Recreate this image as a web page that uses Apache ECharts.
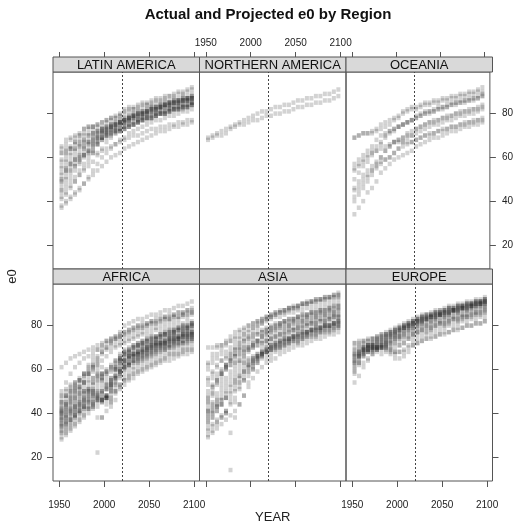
<!DOCTYPE html>
<html>
<head>
<meta charset="utf-8">
<script src="https://cdn.jsdelivr.net/npm/echarts@6/dist/echarts.min.js"></script>
<style>
  html, body { margin: 0; padding: 0; background: #fff; }
  #chart { width: 516px; height: 525px; }
</style>
</head>
<body>
<div id="chart"></div>
<script>
// Mid-points of the five-year periods 1950-1955 ... 2095-2100
const periodMid = [1952.5, 1957.5, 1962.5, 1967.5, 1972.5, 1977.5, 1982.5, 1987.5, 1992.5, 1997.5,
                   2002.5, 2007.5, 2012.5, 2017.5, 2022.5, 2027.5, 2032.5, 2037.5, 2042.5, 2047.5,
                   2052.5, 2057.5, 2062.5, 2067.5, 2072.5, 2077.5, 2082.5, 2087.5, 2092.5, 2097.5];
const projectionStart = 2020;
const yearTicks = [1950, 2000, 2050, 2100];
const e0Ticks = [20, 40, 60, 80];

const panelNames = ['LATIN AMERICA', 'NORTHERN AMERICA', 'OCEANIA', 'AFRICA', 'ASIA', 'EUROPE'];

// Life expectancy at birth (e0), one row per country, 14 observed + 16 projected periods
const latinAmerica = [
  [65,66,68,69,70,71,73,74,75,76,77,78,79,80, 82,83,83,84,85,85,86,87,87,88,88,89,90,90,91,92],
  [62,64,65,66,67,68,70,71,72,73,74,75,76,77, 78,79,80,81,81,82,83,83,84,85,85,86,86,87,87,88],
  [50,54,57,59,61,64,66,68,70,72,74,75,75,76, 77,78,79,80,80,81,82,82,83,84,84,85,85,86,86,87],
  [50,53,55,57,59,61,63,65,67,69,71,72,73,75, 76,77,78,79,80,80,81,82,83,83,84,85,85,86,86,87],
  [49,54,57,59,61,64,66,67,69,71,72,74,75,76, 77,78,79,79,80,81,82,82,83,84,84,85,85,86,86,87],
  [44,46,49,51,54,57,60,63,66,69,71,73,75,76, 77,78,79,80,80,81,82,83,83,84,85,85,86,86,87,87],
  [38,40,42,44,46,48,51,54,57,60,62,64,66,68, 69,71,72,73,74,75,76,77,77,78,79,79,80,81,81,82],
  [37,39,41,43,45,48,50,52,54,56,58,60,61,62, 64,65,66,67,68,69,70,71,72,72,73,74,74,75,75,76],
  [42,44,47,49,52,54,56,58,61,64,67,69,71,72, 73,74,75,76,77,78,78,79,80,80,81,82,82,83,83,84],
  [59,62,64,67,70,73,74,74,75,76,77,78,78,79, 80,81,82,82,83,84,84,85,85,86,86,87,87,88,88,89],
  [41,43,46,49,52,55,58,62,66,68,70,71,72,73, 74,75,76,77,78,78,79,80,80,81,82,82,83,83,84,85],
  [58,61,64,67,68,70,71,72,72,73,73,74,74,75, 76,77,78,78,79,80,80,81,82,82,83,83,84,84,85,85],
  [46,50,53,56,59,62,64,66,68,69,70,71,72,73, 75,76,77,77,78,79,80,80,81,81,82,83,83,84,84,85],
  [52,55,57,59,60,61,62,62,62,63,64,65,66,67, 68,69,70,70,71,72,73,73,74,74,75,75,76,76,77,77],
  [64,68,69,70,71,73,74,74,74,74,76,77,78,79, 81,82,82,83,84,84,85,86,86,87,88,88,89,89,90,91],
  [48,51,54,56,58,61,63,66,69,71,73,74,75,76, 77,78,79,80,81,81,82,83,83,84,85,85,86,86,87,87],
  [55,58,61,63,65,67,68,70,71,72,72,73,73,72, 73,74,75,76,77,78,78,79,80,80,81,82,82,83,83,84],
  [62,63,64,64,65,66,67,68,68,69,70,71,72,73, 74,75,75,76,77,78,78,79,80,80,81,81,82,82,83,84],
  [53,56,59,61,63,65,67,69,70,71,72,73,74,75, 76,77,78,78,79,80,81,81,82,83,83,84,84,85,86,86],
  [56,59,62,64,66,68,70,71,72,73,74,75,76,77, 78,79,80,80,81,82,83,83,84,84,85,86,86,87,87,88],
  [45,48,51,54,57,60,62,64,66,68,69,70,71,72, 73,74,75,76,77,77,78,79,80,80,81,82,82,83,83,84]
];

const northernAmerica = [
  [69,70,71,72,73,74,75,76,77,78,79,80,81,81, 82,83,83,84,84,85,86,86,87,87,88,88,89,89,90,91],
  [68,69,70,70,71,73,74,75,75,76,77,77,78,79, 79,80,80,81,81,82,83,83,84,84,85,85,86,86,87,88]
];

const oceania = [
  [69,70,71,71,71,73,75,76,77,78,79,81,82,83, 83,84,85,85,86,86,87,87,88,88,89,89,90,90,91,92],
  [69,70,71,71,72,72,73,74,75,77,78,80,81,82, 82,83,84,84,85,85,86,86,87,87,88,88,89,89,90,90],
  [50,53,56,58,61,63,66,69,71,72,74,75,76,77, 78,79,80,81,81,82,83,83,84,85,85,86,86,87,87,88],
  [55,57,59,61,63,65,67,70,72,73,74,75,76,77, 78,79,80,80,81,82,82,83,84,84,85,85,86,86,87,88],
  [54,56,58,60,62,63,64,65,66,67,67,67,67,67, 68,69,70,70,71,72,72,73,74,74,75,75,76,76,77,77],
  [34,37,40,44,46,49,53,55,57,59,60,61,62,63, 65,66,67,68,69,69,70,71,72,72,73,74,74,75,75,76],
  [45,47,50,52,54,56,58,59,60,62,64,67,69,70, 73,74,75,76,77,77,78,79,79,80,81,81,82,82,83,84],
  [42,45,48,51,54,57,60,63,65,67,68,69,70,70, 71,72,73,74,75,75,76,77,77,78,79,79,80,80,81,82],
  [46,49,52,54,56,58,60,63,65,67,68,69,71,72, 73,74,75,76,76,77,78,78,79,80,80,81,81,82,82,83],
  [40,43,46,49,52,55,57,59,60,62,64,65,66,67, 68,69,70,71,71,72,73,73,74,74,75,76,76,77,77,78],
  [57,59,61,63,65,68,70,71,72,73,74,75,76,77, 79,80,81,81,82,83,83,84,85,85,86,86,87,87,88,89]
];

const africa = [
  [61,63,65,66,67,68,69,70,71,72,73,74,75,77, 80,81,82,83,83,84,85,85,86,87,87,88,89,89,90,91],
  [50,54,58,61,63,65,66,68,69,70,72,73,74,75, 76,77,78,79,79,80,81,81,82,83,83,84,84,85,85,86],
  [44,47,49,51,52,54,58,61,64,67,69,70,71,71, 72,73,74,75,76,76,77,78,78,79,80,80,81,81,82,82],
  [43,45,47,49,51,54,58,62,65,68,70,72,74,75, 77,78,79,80,80,81,82,82,83,84,84,85,86,86,87,88],
  [45,48,50,52,54,56,58,60,62,61,56,53,56,60, 64,66,67,68,69,70,71,72,72,73,74,74,75,76,76,77],
  [48,50,52,54,56,58,60,62,61,55,48,45,50,57, 62,64,66,67,68,69,70,71,71,72,73,73,74,75,75,76],
  [41,44,47,50,52,54,57,59,59,56,53,54,60,64, 67,68,70,71,72,73,74,74,75,76,77,77,78,79,79,80],
  [34,35,37,39,41,44,45,46,46,46,47,49,51,53, 55,56,58,59,60,61,62,63,64,65,66,67,67,68,69,69],
  [28,30,32,34,36,38,40,42,38,38,41,45,50,53, 55,57,58,60,61,62,63,64,65,66,67,67,68,69,69,70],
  [40,41,42,43,44,45,46,44,22,38,47,53,60,65, 69,70,71,72,73,74,75,75,76,77,78,78,79,80,80,81],
  [34,36,38,40,42,43,42,44,46,49,52,56,61,65, 67,68,70,71,72,73,73,74,75,76,76,77,78,78,79,80],
  [35,37,39,41,43,45,47,48,48,47,46,47,49,51, 53,55,56,58,59,60,61,62,63,64,64,65,66,67,67,68],
  [42,45,48,50,52,54,55,56,57,58,58,59,61,63, 64,65,66,67,68,69,70,71,72,72,73,74,74,75,76,76],
  [37,38,40,41,43,46,50,54,57,58,59,61,64,67, 68,69,71,72,73,74,75,75,76,77,78,78,79,80,80,81],
  [41,43,45,47,49,50,51,51,50,50,51,55,60,64, 66,67,68,70,71,71,72,73,74,75,75,76,77,77,78,79],
  [29,31,33,35,37,39,42,45,47,49,51,54,57,59, 60,62,63,64,65,66,67,68,69,69,70,71,72,72,73,74],
  [32,34,36,38,40,42,44,45,46,46,47,50,54,58, 61,62,64,65,66,67,68,69,70,70,71,72,72,73,74,74],
  [38,40,42,44,46,48,50,50,48,45,44,47,53,60, 63,65,66,67,68,69,70,71,72,72,73,74,74,75,76,76],
  [45,48,50,52,55,58,62,66,69,71,73,74,75,76, 77,78,79,80,81,81,82,83,84,84,85,85,86,86,87,87],
  [48,51,53,54,55,58,61,64,66,68,70,72,73,74, 75,76,77,78,79,80,81,81,82,83,83,84,84,85,86,86],
  [40,43,45,47,49,50,50,49,47,46,47,52,57,62, 64,66,67,68,69,70,71,72,73,73,74,75,75,76,77,77],
  [31,33,35,38,40,42,43,43,43,45,48,51,55,58, 60,62,63,64,65,66,67,68,69,70,70,71,72,72,73,74],
  [37,39,41,43,45,47,49,51,54,56,58,60,62,64, 65,66,67,68,69,70,71,72,72,73,74,75,75,76,77,77],
  [42,44,46,48,50,52,54,56,58,55,47,43,46,52, 56,58,60,62,63,64,65,66,67,68,68,69,70,70,71,72],
  [36,38,40,42,44,46,48,50,52,53,54,56,59,62, 64,66,67,68,70,71,72,72,73,74,75,76,76,77,78,78],
  [39,41,43,45,47,49,51,53,55,57,59,61,63,65, 67,68,69,70,71,72,73,74,75,76,76,77,78,78,79,80],
  [33,35,37,39,41,43,45,47,49,50,51,53,56,59, 61,63,64,66,67,68,69,70,71,72,72,73,74,75,75,76],
  [46,48,51,53,55,57,59,61,63,64,66,68,70,72, 73,74,75,76,77,78,79,79,80,81,82,82,83,84,84,85],
  [35,36,37,39,41,43,46,48,48,47,48,52,56,60, 62,63,65,66,67,68,69,70,71,71,72,73,74,74,75,75],
  [38,39,41,43,45,47,48,49,50,51,53,55,57,59, 61,62,64,65,66,67,68,69,70,71,71,72,73,73,74,75],
  [40,42,44,46,48,50,52,54,56,58,60,62,64,66, 68,69,70,71,72,73,74,75,76,76,77,78,79,79,80,81],
  [31,32,34,36,38,40,42,43,45,46,48,50,53,56, 58,60,61,63,64,65,66,67,68,69,70,70,71,72,72,73]
];

const asia = [
  [63,67,70,71,73,75,77,78,79,80,81,82,83,84, 85,86,86,87,88,88,89,90,90,91,91,92,92,93,93,94],
  [62,65,67,69,71,73,75,77,78,80,81,82,83,84, 85,86,87,87,88,89,89,90,91,91,92,92,93,93,94,95],
  [70,70,71,71,72,73,74,75,76,78,79,80,81,82, 83,84,84,85,86,86,87,87,88,88,89,89,90,90,91,92],
  [44,48,45,55,60,64,66,68,69,70,71,73,75,76, 77,78,79,80,80,81,82,82,83,84,84,85,85,86,86,87],
  [37,40,43,46,49,52,55,57,59,61,63,65,67,69, 70,71,72,73,74,75,75,76,77,78,78,79,80,80,81,81],
  [40,43,46,49,52,55,58,61,63,65,66,67,68,69, 71,72,73,74,74,75,76,77,77,78,79,79,80,80,81,82],
  [29,31,33,35,37,39,41,44,48,52,56,59,61,63, 64,65,67,68,69,70,71,71,72,73,74,74,75,76,76,77],
  [41,42,43,44,40,14,45,52,55,57,60,63,66,68, 69,70,71,72,73,74,75,75,76,77,78,78,79,80,80,81],
  [30,32,35,38,40,31,38,44,48,54,60,64,67,68, 70,71,72,73,74,75,75,76,77,78,78,79,80,80,81,82],
  [32,34,36,38,41,45,50,54,58,61,63,65,66,65, 66,68,69,70,71,72,72,73,74,75,75,76,77,77,78,79],
  [47,52,55,58,62,65,67,70,73,75,77,79,81,83, 84,85,86,87,88,88,89,90,90,91,92,92,93,93,94,94],
  [42,44,47,51,54,57,60,63,66,69,71,73,75,77, 78,79,80,81,81,82,83,83,84,85,85,86,86,87,87,88],
  [46,50,54,58,62,66,69,72,74,75,76,77,78,79, 80,81,81,82,83,83,84,85,85,86,86,87,87,88,89,89],
  [56,59,62,64,65,67,69,70,70,71,72,73,75,76, 77,78,79,79,80,81,81,82,83,83,84,85,85,86,86,87],
  [38,40,43,46,47,47,53,56,59,62,65,67,70,72, 73,74,75,76,77,78,78,79,80,81,81,82,82,83,84,84],
  [35,38,41,44,47,49,51,54,56,59,61,63,65,67, 68,69,70,71,72,73,73,74,75,76,76,77,78,78,79,80],
  [53,56,58,60,61,62,63,64,64,63,64,66,68,70, 71,72,73,74,74,75,76,77,77,78,79,79,80,80,81,82],
  [60,63,65,67,68,70,72,74,76,77,79,81,82,83, 84,85,86,86,87,88,88,89,90,90,91,91,92,92,93,93],
  [48,52,55,58,60,62,64,66,68,70,72,73,73,74, 75,76,77,78,79,79,80,81,81,82,83,83,84,84,85,85],
  [33,35,37,39,41,44,47,51,55,59,62,65,68,70, 71,72,73,74,75,76,77,77,78,79,80,80,81,82,82,83],
  [41,45,49,53,56,59,62,64,66,68,70,71,72,73, 74,75,76,77,78,78,79,80,81,81,82,83,83,84,84,85],
  [50,53,56,59,62,64,66,67,68,69,70,71,72,73, 74,75,76,76,77,78,79,79,80,81,81,82,82,83,84,84],
  [36,38,41,44,47,50,54,57,60,62,64,66,67,68, 69,70,71,72,73,74,74,75,76,77,77,78,79,79,80,80],
  [45,49,53,57,61,64,67,69,71,73,74,76,77,78, 79,80,81,82,83,83,84,85,85,86,87,87,88,88,89,90],
  [55,58,61,64,66,68,70,72,73,74,75,76,77,78, 79,80,81,82,82,83,84,84,85,86,86,87,87,88,88,89],
  [39,41,44,47,50,53,56,59,62,64,65,66,67,68, 69,70,70,71,72,73,73,74,75,75,76,77,77,78,78,79]
];

const europe = [
  [72,73,73,74,74,75,76,76,77,78,79,80,81,82, 83,84,84,85,86,86,87,88,88,89,89,90,90,91,91,92],
  [70,71,72,73,74,75,76,77,78,79,80,81,82,83, 84,85,85,86,87,87,88,89,89,90,90,91,91,92,92,93],
  [66,68,70,71,72,73,74,75,77,78,79,80,81,82, 83,84,85,85,86,87,87,88,88,89,89,90,90,91,91,92],
  [69,70,71,71,72,73,74,75,76,77,78,79,80,81, 82,82,83,84,84,85,85,86,87,87,88,88,89,89,90,90],
  [63,66,69,71,72,74,75,76,77,78,79,80,81,82, 83,84,85,85,86,86,87,88,88,89,89,90,90,91,91,92],
  [59,62,63,65,67,69,71,73,74,75,76,78,79,80, 81,82,83,84,84,85,86,86,87,87,88,88,89,90,90,91],
  [64,66,68,68,68,68,67,68,67,65,65,66,68,71, 72,73,74,75,75,76,77,77,78,79,79,80,80,81,81,82],
  [67,68,70,71,71,70,70,70,69,68,68,68,70,71, 72,73,74,74,75,76,76,77,78,78,79,80,80,81,81,82],
  [61,65,67,69,70,70,70,71,71,72,74,75,76,77, 78,79,80,80,81,82,82,83,84,84,85,85,86,86,87,88],
  [54,57,61,64,67,69,71,72,72,74,75,76,77,78, 79,80,80,81,82,82,83,84,84,85,85,86,87,87,88,88],
  [63,66,69,70,70,70,70,70,69,68,71,72,74,76, 77,78,79,79,80,81,81,82,83,83,84,84,85,85,86,86],
  [72,72,73,73,74,74,75,76,76,77,78,79,80,81, 82,83,83,84,85,85,86,86,87,88,88,89,89,90,90,91],
  [58,63,67,69,70,70,70,70,70,70,71,72,74,75, 76,77,77,78,79,80,80,81,82,82,83,84,84,85,85,86],
  [67,68,69,70,70,71,72,73,75,76,78,79,80,81, 82,83,83,84,85,85,86,87,87,88,88,89,89,90,90,91],
  [65,67,69,70,71,72,73,74,75,76,77,78,79,80, 81,82,83,83,84,85,85,86,87,87,88,88,89,89,90,90],
  [68,69,70,71,71,72,73,74,75,76,77,79,80,81, 82,83,84,84,85,86,86,87,87,88,89,89,90,90,91,91],
  [62,64,66,68,69,70,70,71,72,72,73,74,75,76, 77,78,78,79,80,81,81,82,83,83,84,84,85,86,86,87],
  [60,63,66,68,69,70,71,72,73,74,75,77,78,79, 80,81,81,82,83,84,84,85,86,86,87,87,88,88,89,89],
  [66,67,68,69,70,71,72,72,73,74,75,76,78,79, 80,81,82,82,83,84,84,85,86,86,87,87,88,89,89,90],
  [64,66,68,69,69,69,69,69,68,67,68,69,71,73, 74,75,76,77,77,78,79,80,80,81,82,82,83,83,84,84]
];

const panelData = [latinAmerica, northernAmerica, oceania, africa, asia, europe];

// ---- layout of the 3 x 2 lattice ----
const layout = {
  left: 53, colW: 146.5, stripH: 15, plotH: 197, firstStripTop: 57,
  xMin: 1943, xMax: 2106, yMin: 9, yMax: 99
};
const rowPlotTop = [
  layout.firstStripTop + layout.stripH,
  layout.firstStripTop + layout.stripH + layout.plotH + layout.stripH
];
const FONT = '"Liberation Sans", Arial, Helvetica, sans-serif';
const INK = '#222';
const FRAME = '#555';
const plainNumber = v => String(v);

const grids = [], xAxes = [], yAxes = [], series = [], graphics = [];

panelNames.forEach((name, i) => {
  const row = i < 3 ? 0 : 1;
  const col = i % 3;
  const gLeft = layout.left + col * layout.colW;
  const gTop = rowPlotTop[row];

  grids.push({
    left: gLeft, top: gTop, width: layout.colW, height: layout.plotH,
    show: true, borderColor: FRAME, borderWidth: 1, backgroundColor: 'transparent'
  });

  const xBase = {
    type: 'value', gridIndex: i, min: layout.xMin, max: layout.xMax,
    axisLine: { show: false }, splitLine: { show: false }
  };
  // bottom axis (carries the data)
  xAxes.push(Object.assign({}, xBase, {
    position: 'bottom',
    axisTick: { show: row === 1, length: 6, customValues: yearTicks, lineStyle: { color: FRAME } },
    axisLabel: { show: row === 1 && col !== 1, customValues: yearTicks, margin: 19, formatter: plainNumber,
                 fontSize: 10, color: INK, fontFamily: FONT }
  }));
  // top axis, lifted above the strip
  xAxes.push(Object.assign({}, xBase, {
    position: 'top', offset: layout.stripH,
    axisTick: { show: row === 0, length: 5, customValues: yearTicks, lineStyle: { color: FRAME } },
    axisLabel: { show: row === 0 && col === 1, customValues: yearTicks, margin: 9, formatter: plainNumber,
                 fontSize: 10, color: INK, fontFamily: FONT }
  }));

  const yBase = {
    type: 'value', gridIndex: i, min: layout.yMin, max: layout.yMax,
    axisLine: { show: false }, splitLine: { show: false }
  };
  yAxes.push(Object.assign({}, yBase, {
    position: 'left',
    axisTick: { show: col === 0, length: 6, customValues: e0Ticks, lineStyle: { color: FRAME } },
    axisLabel: { show: col === 0 && row === 1, customValues: e0Ticks, margin: 11, formatter: plainNumber,
                 fontSize: 10, color: INK, fontFamily: FONT }
  }));
  yAxes.push(Object.assign({}, yBase, {
    position: 'right',
    axisTick: { show: col === 2, length: 6, customValues: e0Ticks, lineStyle: { color: FRAME } },
    axisLabel: { show: col === 2 && row === 0, customValues: e0Ticks, margin: 12, formatter: plainNumber,
                 fontSize: 10, color: INK, fontFamily: FONT }
  }));

  const points = [];
  panelData[i].forEach(country => {
    country.forEach((v, k) => points.push([periodMid[k], v]));
  });

  series.push({
    type: 'scatter', name: name, xAxisIndex: i * 2, yAxisIndex: i * 2,
    data: points, symbol: 'rect', symbolSize: [4, 4.5], silent: true,
    itemStyle: { color: 'rgba(35,35,35,0.25)' },
    markLine: {
      silent: true, symbol: 'none', label: { show: false },
      lineStyle: { color: '#444', type: [2, 2], width: 1 },
      data: [{ xAxis: projectionStart }]
    }
  });

  // strip with the region name
  const stripTop = gTop - layout.stripH;
  graphics.push({
    type: 'rect', silent: true,
    shape: { x: gLeft, y: stripTop, width: layout.colW, height: layout.stripH },
    style: { fill: '#d9d9d9', stroke: FRAME, lineWidth: 1 }
  });
  graphics.push({
    type: 'text', silent: true,
    x: gLeft + layout.colW / 2, y: stripTop + layout.stripH / 2 + 0.5,
    style: { text: name, font: '13px ' + FONT, fill: '#111',
             textAlign: 'center', textVerticalAlign: 'middle', align: 'center', verticalAlign: 'middle' }
  });
});

const plotRight = layout.left + 3 * layout.colW;
const plotBottom = rowPlotTop[1] + layout.plotH;

graphics.push({
  type: 'text', silent: true, x: 268, y: 15,
  style: { text: 'Actual and Projected e0 by Region', font: 'bold 15px ' + FONT, fill: '#111',
           textAlign: 'center', textVerticalAlign: 'middle', align: 'center', verticalAlign: 'middle' }
});
graphics.push({
  type: 'text', silent: true, x: (layout.left + plotRight) / 2, y: plotBottom + 36,
  style: { text: 'YEAR', font: '13px ' + FONT, fill: INK,
           textAlign: 'center', textVerticalAlign: 'middle', align: 'center', verticalAlign: 'middle' }
});
graphics.push({
  type: 'text', silent: true, x: 12, y: (rowPlotTop[0] + plotBottom) / 2, rotation: Math.PI / 2,
  style: { text: 'e0', font: '13px ' + FONT, fill: INK,
           textAlign: 'center', textVerticalAlign: 'middle', align: 'center', verticalAlign: 'middle' }
});

const chart = echarts.init(document.getElementById('chart'), null, { renderer: 'canvas' });
chart.setOption({
  animation: false,
  backgroundColor: '#fff',
  grid: grids,
  xAxis: xAxes,
  yAxis: yAxes,
  series: series,
  graphic: { elements: graphics }
});
</script>
</body>
</html>
